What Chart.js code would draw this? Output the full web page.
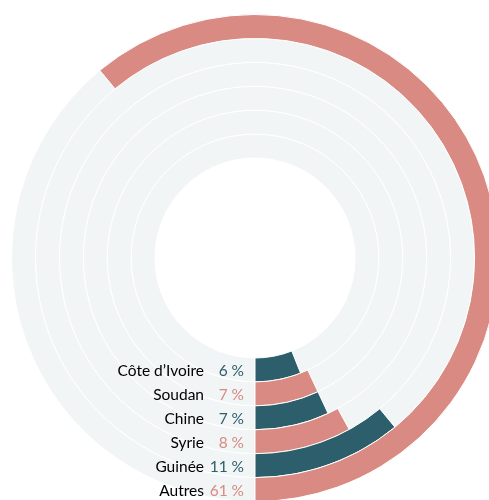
<!DOCTYPE html>
<html>
<head>
<meta charset="utf-8">
<script src="https://cdn.jsdelivr.net/npm/chart.js@4"></script>
<style>
  html, body { margin: 0; padding: 0; background: #fff; overflow: hidden; }
  #wrap { position: absolute; left: 11px; top: 14px; width: 488px; height: 488px; }
</style>
</head>
<body>
<div id="wrap"><canvas id="ringChart"></canvas></div>
<script>
// pays d'origine, de l'anneau extérieur vers l'intérieur
const pays = ["Autres", "Guinée", "Syrie", "Chine", "Soudan", "Côte d\u2019Ivoire"];
const parts = [61, 11, 8, 7, 7, 6];
const couleurs = ["#d98a82", "#2c5f6b", "#d98a82", "#2c5f6b", "#d98a82", "#2c5f6b"];
const fond = "#f2f5f6";

const ctx = document.getElementById("ringChart").getContext("2d");

// une couronne par pays : fond gris puis la part, qui se termine en bas
const datasets = pays.map(function (nom, i) {
  return {
    label: nom,
    data: [100 - parts[i], parts[i]],
    backgroundColor: [fond, couleurs[i]],
    borderColor: "#ffffff",
    borderWidth: 1,
  };
});

// étiquettes à gauche du départ des barres
const etiquettes = {
  id: "etiquettes",
  afterDraw(chart) {
    const c = chart.ctx;
    c.save();
    c.textBaseline = "middle";
    c.textAlign = "right";
    chart.data.datasets.forEach(function (ds, i) {
      const arc = chart.getDatasetMeta(i).data[1];
      const y = arc.y + (arc.innerRadius + arc.outerRadius) / 2;
      c.font = "15.5px Lato";
      c.fillStyle = "#000000";
      c.fillText(pays[i], arc.x - 51, y + 1);
      c.fillStyle = couleurs[i];
      c.fillText(parts[i] + "\u202f%", arc.x - 11, y + 1);
    });
    c.restore();
  },
};

new Chart(ctx, {
  type: "doughnut",
  data: { labels: ["reste", "part"], datasets: datasets },
  options: {
    responsive: true,
    maintainAspectRatio: false,
    animation: false,
    rotation: 180,
    cutout: 100,
    events: [],
    layout: { padding: 0 },
    plugins: {
      legend: { display: false },
      tooltip: { enabled: false },
    },
  },
  plugins: [etiquettes],
});
</script>
</body>
</html>
